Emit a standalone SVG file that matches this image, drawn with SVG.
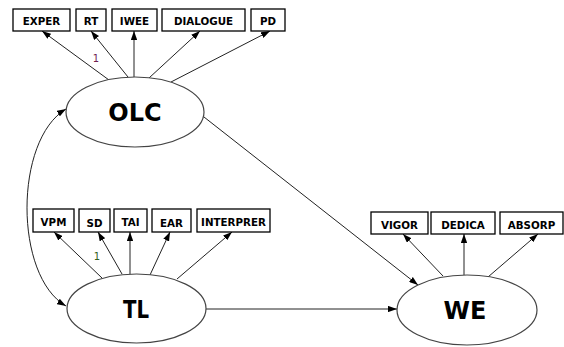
<svg xmlns="http://www.w3.org/2000/svg" width="564" height="347" viewBox="0 0 564 347">
<style>
.box{fill:#fff;stroke:#000;stroke-width:1.3}
.bt{font-family:"DejaVu Sans",sans-serif;font-weight:bold;font-size:10.3px;text-anchor:middle;fill:#000}
.lat{fill:#fff;stroke:#444;stroke-width:1.2}
.lt{font-family:"DejaVu Sans",sans-serif;font-weight:bold;font-size:24px;text-anchor:middle;fill:#000}
.c{fill:none;stroke:#222;stroke-width:1;marker-end:url(#ah)}
.one{font-family:"DejaVu Sans",sans-serif;font-size:10px;text-anchor:middle}
</style>
<defs>
<marker id="ah" viewBox="0 0 10 7" refX="10" refY="3.5" markerWidth="9" markerHeight="6.5" markerUnits="userSpaceOnUse" orient="auto-start-reverse">
<path d="M0,0 L10,3.5 L0,7 z" fill="#000"/>
</marker>
</defs>
<g id="connectors">
<line class="c" x1="109" y1="80" x2="42" y2="31"/>
<line class="c" x1="128" y1="77" x2="91" y2="31"/>
<line class="c" x1="134" y1="77" x2="134" y2="31"/>
<line class="c" x1="149" y1="78" x2="200" y2="31"/>
<line class="c" x1="171" y1="82" x2="270" y2="31"/>
<line class="c" x1="102" y1="278" x2="54" y2="232"/>
<line class="c" x1="122" y1="274" x2="98" y2="232"/>
<line class="c" x1="130" y1="274" x2="130" y2="232"/>
<line class="c" x1="150" y1="275" x2="170" y2="232"/>
<line class="c" x1="177" y1="279" x2="232" y2="232"/>
<line class="c" x1="443" y1="276" x2="403" y2="234"/>
<line class="c" x1="464" y1="275" x2="464" y2="234"/>
<line class="c" x1="488" y1="277" x2="538" y2="234"/>
<line class="c" x1="204" y1="117" x2="418" y2="285"/>
<line class="c" x1="206" y1="309" x2="397" y2="309"/>
<path class="c" d="M66,109 C14,140 14,276 66,306" style="marker-start:url(#ah)"/>
<text class="one" x="96" y="62" fill="#702050">1</text>
<text class="one" x="97" y="260" fill="#306020">1</text>
</g>
<g id="EXPER"><rect class="box" x="13" y="9" width="57" height="22"/><text class="bt" x="41.5" y="25">EXPER</text></g>
<g id="RT"><rect class="box" x="76" y="9" width="30" height="22"/><text class="bt" x="91" y="24.5">RT</text></g>
<g id="IWEE"><rect class="box" x="112" y="9" width="45" height="22"/><text class="bt" x="134.5" y="25">IWEE</text></g>
<g id="DIALOGUE"><rect class="box" x="162" y="9" width="83" height="22"/><text class="bt" x="203.5" y="24.5">DIALOGUE</text></g>
<g id="PD"><rect class="box" x="251" y="9" width="34" height="22"/><text class="bt" x="268" y="25">PD</text></g>
<g id="VPM"><rect class="box" x="33" y="209" width="41" height="23"/><text class="bt" x="53.5" y="225.5">VPM</text></g>
<g id="SD"><rect class="box" x="79" y="209" width="31" height="23"/><text class="bt" x="94.5" y="226.5">SD</text></g>
<g id="TAI"><rect class="box" x="114" y="209" width="33" height="23"/><text class="bt" x="130.5" y="225.5">TAI</text></g>
<g id="EAR"><rect class="box" x="152" y="209" width="39" height="23"/><text class="bt" x="171.5" y="226.5">EAR</text></g>
<g id="INTERPRER"><rect class="box" x="197" y="209" width="73" height="23"/><text class="bt" x="233.5" y="225.5">INTERPRER</text></g>
<g id="VIGOR"><rect class="box" x="371" y="212" width="57" height="22"/><text class="bt" x="399.5" y="229">VIGOR</text></g>
<g id="DEDICA"><rect class="box" x="431" y="212" width="64" height="22"/><text class="bt" x="463" y="229">DEDICA</text></g>
<g id="ABSORP"><rect class="box" x="500" y="212" width="63" height="22"/><text class="bt" x="531.5" y="229">ABSORP</text></g>
<g id="OLC"><ellipse class="lat" cx="135" cy="112" rx="69" ry="35"/><text class="lt" x="135" y="120.5">OLC</text></g>
<g id="TL"><ellipse class="lat" cx="136.5" cy="308.5" rx="69.5" ry="34.5"/><text class="lt" x="136" y="317.5" textLength="26" lengthAdjust="spacingAndGlyphs">TL</text></g>
<g id="WE"><ellipse class="lat" cx="467" cy="310" rx="70" ry="35"/><text class="lt" x="465" y="318.5">WE</text></g>
</svg>
